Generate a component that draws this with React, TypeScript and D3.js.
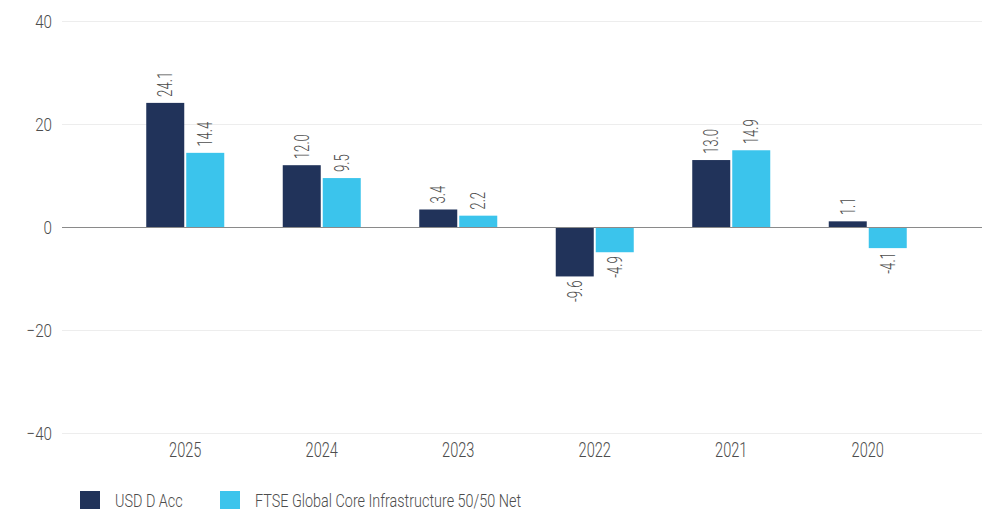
import React, { useRef, useEffect } from "react";
import * as d3 from "d3";

const years = ["2025", "2024", "2023", "2022", "2021", "2020"];
const seriesNames = ["USD D Acc", "FTSE Global Core Infrastructure 50/50 Net"];
const fundValues = [24.1, 12.0, 3.4, -9.6, 13.0, 1.1];
const indexValues = [14.4, 9.5, 2.2, -4.9, 14.9, -4.1];
const yTicks = [-40, -20, 0, 20, 40];
const colors = ["#21335a", "#3bc4ec"];

const FONT = "Roboto, 'DejaVu Sans Condensed', sans-serif";

function App() {
  const ref = useRef<SVGSVGElement>(null);

  useEffect(() => {
    const svg = d3.select(ref.current);
    svg.selectAll("*").remove();

    const width = 982;
    const gridLeft = 62;
    const y = d3.scaleLinear().domain([-40, 40]).range([433, 21]);
    const x0 = d3.scaleBand().domain(years).range([117, 936]);
    const x1 = d3.scaleBand().domain(["0", "1"]).range([0, 78]).paddingInner(0.05);

    // the reference face is a narrow grotesque, so squeeze Roboto horizontally
    const txt = (sel: any) =>
      sel.attr("font-family", FONT).attr("font-weight", 300).attr("fill", "#4d4d4d");

    // grid
    svg.append("g")
      .selectAll("line")
      .data(yTicks.filter((t) => t !== 0))
      .enter()
      .append("line")
      .attr("x1", gridLeft)
      .attr("x2", width)
      .attr("y1", (d) => y(d) + 0.5)
      .attr("y2", (d) => y(d) + 0.5)
      .attr("stroke", "#ededed")
      .attr("stroke-width", 1);

    svg.append("g")
      .selectAll("text")
      .data(yTicks)
      .enter()
      .append("text")
      .attr("transform", (d) => `translate(52,${y(d)}) scale(0.8,1)`)
      .attr("dy", "0.36em")
      .attr("text-anchor", "end")
      .attr("font-size", 19)
      .call(txt)
      .text((d) => (d < 0 ? "\u2212" + Math.abs(d) : String(d)));

    const data = [fundValues, indexValues];

    data.forEach((vals, si) => {
      const g = svg.append("g");
      const barX = (i: number) =>
        (x0(years[i]) as number) + x0.bandwidth() / 2 - 39 + (x1(String(si)) as number);
      g.selectAll("rect")
        .data(vals)
        .enter()
        .append("rect")
        .attr("x", (d, i) => barX(i))
        .attr("y", (d) => y(Math.max(0, d)))
        .attr("width", x1.bandwidth())
        .attr("height", (d) => Math.abs(y(d) - y(0)))
        .attr("fill", colors[si]);

      g.selectAll("text")
        .data(vals)
        .enter()
        .append("text")
        .attr("transform", (d, i) => {
          const cx = barX(i) + x1.bandwidth() / 2;
          const yy = d >= 0 ? y(d) - 6 : y(d) + 4;
          return `translate(${cx + 7},${yy}) rotate(-90) scale(0.66,1)`;
        })
        .attr("text-anchor", (d) => (d >= 0 ? "start" : "end"))
        .attr("font-size", 20)
        .call(txt)
        .text((d) => d.toFixed(1));
    });

    // zero line
    svg.append("line")
      .attr("x1", gridLeft)
      .attr("x2", width)
      .attr("y1", y(0) + 0.5)
      .attr("y2", y(0) + 0.5)
      .attr("stroke", "#8a8a8a")
      .attr("stroke-width", 1);

    // x labels
    svg.append("g")
      .selectAll("text")
      .data(years)
      .enter()
      .append("text")
      .attr("transform", (d) => `translate(${(x0(d) as number) + x0.bandwidth() / 2},457) scale(0.73,1)`)
      .attr("text-anchor", "middle")
      .attr("font-size", 20)
      .call(txt)
      .text((d) => d);

    // legend
    const legendX = [80, 220];
    seriesNames.forEach((name, i) => {
      svg.append("rect")
        .attr("x", legendX[i])
        .attr("y", 491)
        .attr("width", 20)
        .attr("height", 18)
        .attr("fill", colors[i]);
      svg.append("text")
        .attr("transform", `translate(${legendX[i] + 35},506.5) scale(0.8,1)`)
        .attr("font-size", 18)
        .call(txt)
        .text(name);
    });
  });

  return (
    <div style={{ position: "absolute", left: 0, top: 0 }}>
      <svg ref={ref} width="982" height="509" style={{ display: "block" }}></svg>
    </div>
  );
}

export default App;
